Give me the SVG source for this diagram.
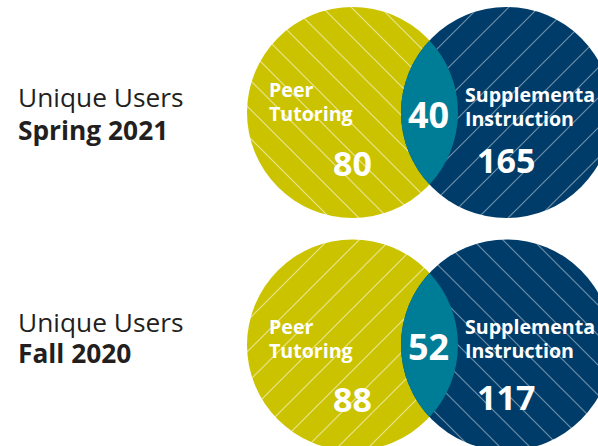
<svg xmlns="http://www.w3.org/2000/svg" width="598" height="446" viewBox="0 0 598 446">
  <style>
    text { font-family: "Open Sans", "Liberation Sans", sans-serif; }
    .caption { font-size: 26.3px; fill: #231f20; }
    .bold { font-weight: 700; }
    .name { font-size: 19.6px; font-weight: 700; fill: #ffffff; }
    .count { font-size: 34px; font-weight: 700; fill: #ffffff; }
    .overlap { font-size: 36px; font-weight: 700; fill: #ffffff; }
    .lens { fill: #007d96; }
  </style>
  <defs>
    <!-- diagonal hatch fills: "\" runs down to the right, "/" runs up to the right -->
    <pattern id="gold-back" patternUnits="userSpaceOnUse" width="29" height="29" x="25">
      <rect width="29" height="29" fill="#cbc300"/>
      <path d="M-1,-1 L30,30 M-1,28 L1,30 M28,-1 L30,1" stroke="#ffffff" stroke-opacity="0.55" stroke-width="1.2"/>
    </pattern>
    <pattern id="gold-fwd" patternUnits="userSpaceOnUse" width="31" height="31" x="10">
      <rect width="31" height="31" fill="#cbc300"/>
      <path d="M-1,32 L32,-1 M-1,1 L1,-1 M30,32 L32,30" stroke="#ffffff" stroke-opacity="0.55" stroke-width="1.2"/>
    </pattern>
    <pattern id="navy-fwd" patternUnits="userSpaceOnUse" width="30" height="30" x="6">
      <rect width="30" height="30" fill="#003c69"/>
      <path d="M-1,31 L31,-1 M-1,1 L1,-1 M29,31 L31,29" stroke="#ffffff" stroke-opacity="0.42" stroke-width="1.2"/>
    </pattern>
    <pattern id="navy-back" patternUnits="userSpaceOnUse" width="30" height="30" x="23">
      <rect width="30" height="30" fill="#003c69"/>
      <path d="M-1,-1 L31,31 M-1,29 L1,31 M29,-1 L31,1" stroke="#ffffff" stroke-opacity="0.42" stroke-width="1.2"/>
    </pattern>
  </defs>

  <!-- Spring 2021 -->
  <g id="spring-2021">
    <g id="spring-label">
      <text class="caption" x="18" y="107">Unique Users<tspan class="bold" x="18" y="140">Spring 2021</tspan></text>
    </g>
    <g id="spring-peer-tutoring">
      <circle cx="352.5" cy="112.5" r="105.5" fill="url(#gold-back)"/>
      <text class="name" x="269" y="97">Peer<tspan x="269" y="121">Tutoring</tspan></text>
      <text class="count" x="333" y="176">80</text>
    </g>
    <g id="spring-supplemental">
      <circle cx="506.5" cy="112.5" r="105.5" fill="url(#navy-fwd)"/>
      <text class="name" x="465" y="102">Supplementa<tspan x="465" y="126">Instruction</tspan></text>
      <text class="count" x="477" y="173">165</text>
    </g>
    <g id="spring-both">
      <path class="lens" d="M429.5,40.4 A105.5,105.5 0 0 0 429.5,184.6 A105.5,105.5 0 0 0 429.5,40.4 Z"/>
      <text class="overlap" x="408" y="128">40</text>
    </g>
  </g>

  <!-- Fall 2020 -->
  <g id="fall-2020">
    <g id="fall-label">
      <text class="caption" x="18" y="332">Unique Users<tspan class="bold" x="18" y="363">Fall 2020</tspan></text>
    </g>
    <g id="fall-peer-tutoring">
      <circle cx="352.5" cy="345" r="105.5" fill="url(#gold-fwd)"/>
      <text class="name" x="269" y="334">Peer<tspan x="269" y="358">Tutoring</tspan></text>
      <text class="count" x="333" y="412">88</text>
    </g>
    <g id="fall-supplemental">
      <circle cx="506.5" cy="345" r="105.5" fill="url(#navy-back)"/>
      <text class="name" x="465" y="334">Supplementa<tspan x="465" y="358">Instruction</tspan></text>
      <text class="count" x="477" y="410">117</text>
    </g>
    <g id="fall-both">
      <path class="lens" d="M429.5,272.9 A105.5,105.5 0 0 0 429.5,417.1 A105.5,105.5 0 0 0 429.5,272.9 Z"/>
      <text class="overlap" x="408" y="360">52</text>
    </g>
  </g>
</svg>
